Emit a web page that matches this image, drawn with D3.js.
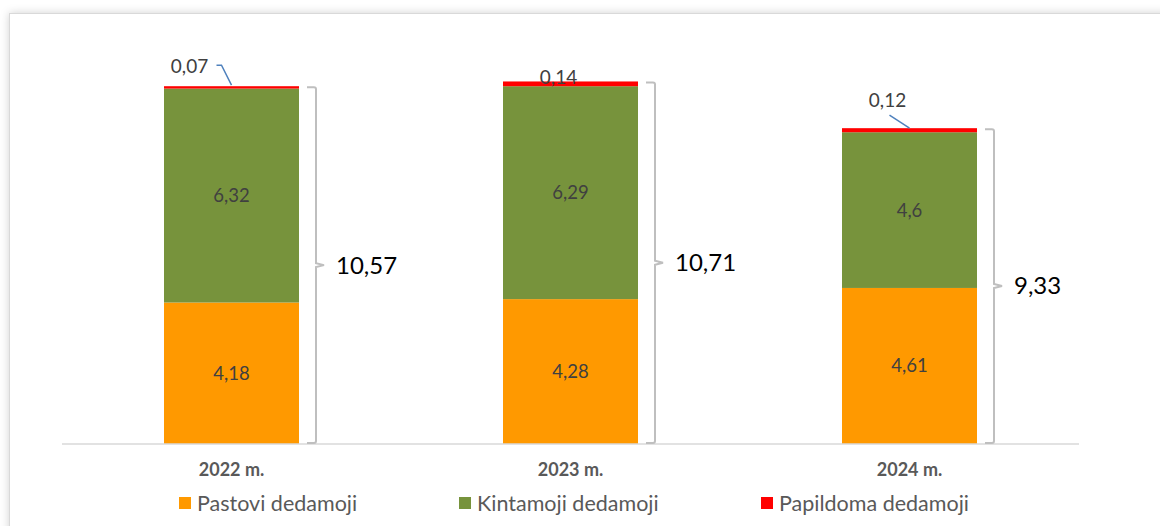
<!DOCTYPE html>
<html><head><meta charset="utf-8">
<script src="https://cdn.jsdelivr.net/npm/d3@7"></script>
<style>html,body{margin:0;padding:0;background:#fff;overflow:hidden}</style>
</head><body>
<svg id="c" width="1160" height="526"></svg>
<script>
const categories = ["2022 m.", "2023 m.", "2024 m."];
const seriesNames = ["Pastovi dedamoji", "Kintamoji dedamoji", "Papildoma dedamoji"];
const pastovi = [4.18, 4.28, 4.61];
const kintamoji = [6.32, 6.29, 4.6];
const papildoma = [0.07, 0.14, 0.12];
const totals = [10.57, 10.71, 9.33];
const colors = ["#FF9900", "#77933C", "#FF0000"];

const svg = d3.select("#c");
const defs = svg.append("defs");
const f = defs.append("filter").attr("id","sh").attr("x","-5%").attr("y","-5%").attr("width","110%").attr("height","110%");
f.append("feDropShadow").attr("dx",0).attr("dy",0).attr("stdDeviation",4).attr("flood-color","#000").attr("flood-opacity",0.18);
svg.append("rect").attr("x",9.5).attr("y",13.5).attr("width",1200).attr("height",600)
  .attr("fill","#fff").attr("stroke","#d9d9d9").attr("filter","url(#sh)");

const x = d3.scaleBand().domain(categories).range([62, 1079]).paddingInner(0.6).paddingOuter(0.3);
const y = d3.scaleLinear().domain([0, 12]).range([444, 444 - 12*33.85]);

const rows = categories.map((c,i)=>({cat:c, vals:[pastovi[i], kintamoji[i], papildoma[i]]}));
const stack = d3.stack().keys([0,1,2]).value((d,k)=>d.vals[k]);
const layers = stack(rows);

const bw = 135;
const cx = c => x(c) + x.bandwidth()/2;

layers.forEach((layer, k) => {
  svg.append("g").selectAll("rect").data(layer).join("rect")
    .attr("x", d => cx(d.data.cat) - bw/2)
    .attr("y", d => y(d[1]))
    .attr("width", bw)
    .attr("height", d => y(d[0]) - y(d[1]))
    .attr("fill", colors[k]);
});

// axis line
svg.append("line").attr("x1",62).attr("x2",1079).attr("y1",444).attr("y2",444)
  .attr("stroke","#d9d9d9").attr("stroke-width",1.5);

const fmt = v => String(v).replace(".", ",");
const font = "Lato, 'Open Sans', sans-serif";

// inner labels for first two series
[0,1].forEach(k => {
  svg.append("g").selectAll("text").data(layers[k]).join("text")
    .attr("x", d => cx(d.data.cat))
    .attr("y", d => (y(d[0]) + y(d[1]))/2)
    .attr("dy","0.35em")
    .attr("text-anchor","middle")
    .attr("font-family",font).attr("font-size",18.5)
    .attr("fill","#404040")
    .text(d => fmt(d.data.vals[k]));
});

// small series labels with leaders (offsets relative to bar top)
const smallOff = [{dx:-42, dy:-20, lead:true, elbow:[[-15,-21],[-10,-21],[0,-1]]},
                  {dx:-12, dy:-4, lead:false},
                  {dx:-22, dy:-28, lead:true, elbow:[[-20,-13],[0,0]]}];
layers[2].forEach((d,i) => {
  const bx = cx(d.data.cat), by = y(d[1]);
  const o = smallOff[i];
  if (o.lead) {
    svg.append("path")
      .attr("d", d3.line()(o.elbow.map(p => [bx + p[0], by + p[1]])))
      .attr("fill","none").attr("stroke","#4F81BD").attr("stroke-width",1.5);
  }
  svg.append("text").attr("x", bx + o.dx).attr("y", by + o.dy).attr("dy","0.35em")
    .attr("text-anchor","middle").attr("font-family",font).attr("font-size",19)
    .attr("fill","#404040").text(fmt(d.data.vals[2]));
});

// braces + totals
rows.forEach((r,i) => {
  const bx = cx(r.cat) + bw/2;
  const top = y(totals[i]), bot = y(0);
  const mid = (top + bot)/2;
  const xl = bx + 8, xv = bx + 17;
  svg.append("path")
    .attr("d", `M${xl},${top+1} L${xv-2},${top+1} Q${xv},${top+1} ${xv},${top+3} L${xv},${mid-2} L${xv+8},${mid} L${xv},${mid+2} L${xv},${bot-3} Q${xv},${bot-1} ${xv-2},${bot-1} L${xl},${bot-1}`)
    .attr("fill","none").attr("stroke","#BFBFBF").attr("stroke-width",2);
  svg.append("text").attr("x", xv + 20).attr("y", mid).attr("dy","0.35em")
    .attr("font-family",font).attr("font-size",24).attr("fill","#000")
    .text(fmt(totals[i]));
});

// category labels
svg.append("g").selectAll("text").data(categories).join("text")
  .attr("x", c => cx(c)).attr("y", 470).attr("dy","0.35em")
  .attr("text-anchor","middle").attr("font-family",font).attr("font-weight","bold")
  .attr("font-size",18).attr("fill","#595959").text(c => c);

// legend
const legX = [179, 459, 761];
const lg = svg.append("g").selectAll("g").data(seriesNames).join("g")
  .attr("transform",(d,i)=>`translate(${legX[i]},503)`);
lg.append("rect").attr("x",0).attr("y",-6).attr("width",12).attr("height",12).attr("fill",(d,i)=>colors[i]);
lg.append("text").attr("x",18).attr("y",0).attr("dy","0.35em")
  .attr("font-family",font).attr("font-size",21.5).attr("fill","#595959").text(d=>d);
</script>
</body></html>
